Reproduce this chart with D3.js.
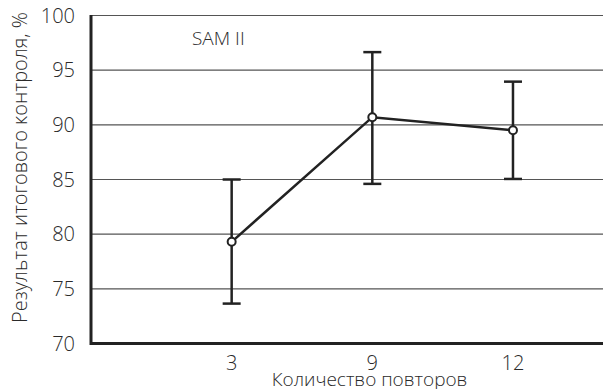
<!DOCTYPE html>
<html>
<head>
<meta charset="utf-8">
<script src="https://cdn.jsdelivr.net/npm/d3@7"></script>
<style>
  body { margin: 0; background: #fff; overflow: hidden; }
  text { font-family: "Open Sans", sans-serif; font-weight: 300; fill: #2a2a2a; }
</style>
</head>
<body>
<div id="chart"></div>
<script>
// data
var categories = ["3", "9", "12"];
var means = [79.3, 90.7, 89.5];
var upper = [85.0, 96.65, 93.95];
var lower = [73.65, 84.6, 85.05];
var yTicks = [70, 75, 80, 85, 90, 95, 100];

var W = 603, H = 389;
var margin = {top: 15.5, right: 0, bottom: 45.5, left: 91};
var width = W - margin.left - margin.right;
var height = H - margin.top - margin.bottom;

var svg = d3.select("#chart").append("svg")
    .attr("width", W).attr("height", H);

var g = svg.append("g")
    .attr("transform", "translate(" + margin.left + "," + margin.top + ")");

// category index -> x; the first point sits one step in from the axis
var xScale = d3.scaleLinear().domain([-1, 2.64]).range([0, width]);
var yScale = d3.scaleLinear().domain([70, 100]).range([height, 0]);

// gridlines
g.selectAll(".grid")
    .data(yTicks.filter(function(d) { return d > 70; }))
    .enter().append("line")
    .attr("x1", 0).attr("x2", width)
    .attr("y1", function(d) { return yScale(d); })
    .attr("y2", function(d) { return yScale(d); })
    .attr("stroke", "#555").attr("stroke-width", 1.2);

// y tick labels
g.selectAll(".ylab")
    .data(yTicks)
    .enter().append("text")
    .attr("x", -16)
    .attr("y", function(d) { return yScale(d); })
    .attr("dy", "0.36em")
    .attr("text-anchor", "end")
    .style("font-size", "20px")
    .text(function(d) { return d; });

// x tick labels
g.selectAll(".xlab")
    .data(categories)
    .enter().append("text")
    .attr("x", function(d, i) { return xScale(i); })
    .attr("y", height + 26.5)
    .attr("text-anchor", "middle")
    .style("font-size", "20px")
    .text(function(d) { return d; });

// axes
g.append("line").attr("x1", 0).attr("x2", 0).attr("y1", -0.5).attr("y2", height + 1.5)
    .attr("stroke", "#222").attr("stroke-width", 3);
g.append("line").attr("x1", 0).attr("x2", width).attr("y1", height).attr("y2", height)
    .attr("stroke", "#222").attr("stroke-width", 3);

// error bars
var capW = 9;
var eb = g.selectAll(".eb").data(categories).enter().append("g");
eb.append("line")
    .attr("x1", function(d, i) { return xScale(i); })
    .attr("x2", function(d, i) { return xScale(i); })
    .attr("y1", function(d, i) { return yScale(upper[i]); })
    .attr("y2", function(d, i) { return yScale(lower[i]); })
    .attr("stroke", "#222").attr("stroke-width", 2.5);
eb.append("line")
    .attr("x1", function(d, i) { return xScale(i) - capW; })
    .attr("x2", function(d, i) { return xScale(i) + capW; })
    .attr("y1", function(d, i) { return yScale(upper[i]); })
    .attr("y2", function(d, i) { return yScale(upper[i]); })
    .attr("stroke", "#222").attr("stroke-width", 2.5);
eb.append("line")
    .attr("x1", function(d, i) { return xScale(i) - capW; })
    .attr("x2", function(d, i) { return xScale(i) + capW; })
    .attr("y1", function(d, i) { return yScale(lower[i]); })
    .attr("y2", function(d, i) { return yScale(lower[i]); })
    .attr("stroke", "#222").attr("stroke-width", 2.5);

// mean line
var line = d3.line()
    .x(function(d, i) { return xScale(i); })
    .y(function(d) { return yScale(d); });
g.append("path").datum(means)
    .attr("d", line)
    .attr("fill", "none").attr("stroke", "#222").attr("stroke-width", 2.5);

g.selectAll(".pt").data(means).enter().append("circle")
    .attr("cx", function(d, i) { return xScale(i); })
    .attr("cy", function(d) { return yScale(d); })
    .attr("r", 4)
    .attr("fill", "#fff").attr("stroke", "#222").attr("stroke-width", 2);

// label inside plot
g.append("text")
    .attr("x", 101).attr("y", 29.5)
    .style("font-size", "19px")
    .text("SAM II");

// axis titles
svg.append("text")
    .attr("transform", "translate(" + 27 + "," + 167.5 + ") rotate(-90)")
    .attr("text-anchor", "middle")
    .style("font-size", "20px")
    .text("Результат итогового контроля, %");

svg.append("text")
    .attr("x", 369.5).attr("y", 385.5)
    .attr("text-anchor", "middle")
    .style("font-size", "19px")
    .text("Количество повторов");
</script>
</body>
</html>
